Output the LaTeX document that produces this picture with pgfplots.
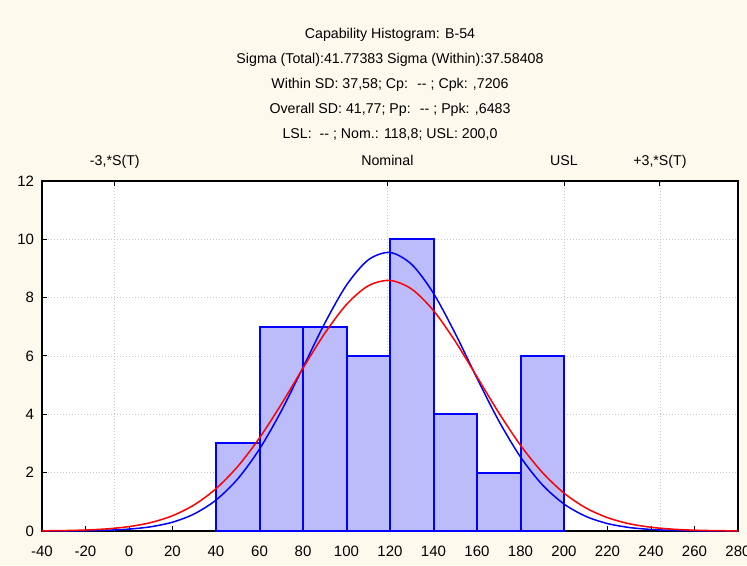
\documentclass[border=0pt]{standalone}
\usepackage{pgfplots}
\pgfplotsset{compat=1.18}
\usepackage{fontspec}
\setmainfont{Liberation Sans}
\definecolor{bgc}{RGB}{253,249,237}
\definecolor{barfill}{RGB}{188,188,250}
\definecolor{gridc}{RGB}{200,200,200}
\begin{document}
\fontsize{14.2}{17}\selectfont
\begin{tikzpicture}[x=1pt,y=1pt]
\useasboundingbox (0,0) rectangle (747,565);
\fill[bgc] (0,0) rectangle (747,565);
\node[anchor=base] at (390,526.5) {Capability Histogram: B-54};
\node[anchor=base] at (390,501.5) {Sigma (Total):41.77383 Sigma (Within):37.58408};
\node[anchor=base] at (390,476.5) {Within SD: 37,58; Cp: \ -{}- ; Cpk: ,7206};
\node[anchor=base] at (390,451.5) {Overall SD: 41,77; Pp: \ -{}- ; Ppk: ,6483};
\node[anchor=base] at (390,426.5) {LSL: \ -{}- ; Nom.: 118,8; USL: 200,0};
\begin{axis}[
  at={(42pt,34pt)}, anchor=south west, scale only axis,
  width=696pt, height=350pt,
  xmin=-40, xmax=280, ymin=0, ymax=12,
  xtick={-40,-20,...,280}, ytick={0,2,...,12},
  axis background/.style={fill=white},
  ymajorgrids,
  extra x ticks={-6.52,118.8,200,244.12},
  extra x tick labels={},
  extra x tick style={grid=major, major tick length=0pt},
  grid style={gridc, dash pattern=on 1pt off 2pt, line width=0.9pt},
  xtick pos=bottom, ytick pos=left, tick align=inside,
  major tick length=5pt, tick style={black, line width=1pt},
  axis line style={black, line width=1.8pt},
  tick label style={font=\fontsize{15}{18}\selectfont},
  /pgf/number format/assume math mode=true,
  xticklabel style={anchor=base, yshift=-25.5pt},
  yticklabel style={xshift=-3pt},
]
\addplot[ybar interval, fill=barfill, draw=blue, line width=2pt]
  coordinates {(40,3)(60,7)(80,7)(100,6)(120,10)(140,4)(160,2)(180,6)(200,6)};
\addplot[blue, line width=1.5pt, smooth, no markers] coordinates {
(-40,0.001)(-30,0.004)(-20,0.010)(-10,0.027)(0,0.065)(10,0.145)(20,0.302)(30,0.586)(40,1.061)(50,1.788)(60,2.810)(70,4.112)(80,5.607)(90,7.123)(100,8.430)(110,9.295)(120,9.548)(130,9.138)(140,8.148)(150,6.769)(160,5.239)(170,3.777)(180,2.537)(190,1.588)(200,0.926)(210,0.503)(220,0.255)(230,0.120)(240,0.053)(250,0.022)(260,0.008)(270,0.003)(280,0.001)};
\addplot[red, line width=1.5pt, smooth, no markers] coordinates {
(-40,0.006)(-30,0.015)(-20,0.034)(-10,0.074)(0,0.151)(10,0.289)(20,0.524)(30,0.897)(40,1.451)(50,2.214)(60,3.192)(70,4.344)(80,5.583)(90,6.777)(100,7.767)(110,8.407)(120,8.591)(130,8.292)(140,7.557)(150,6.503)(160,5.285)(170,4.056)(180,2.939)(190,2.011)(200,1.300)(210,0.793)(220,0.457)(230,0.249)(240,0.128)(250,0.062)(260,0.028)(270,0.012)(280,0.005)};
\end{axis}
\begin{axis}[
  at={(42pt,34pt)}, anchor=south west, scale only axis,
  width=696pt, height=350pt,
  xmin=-40, xmax=280, ymin=0, ymax=12,
  axis x line*=top, axis y line=none,
  xtick={-6.52,118.8,200,244.12},
  xticklabels={{-3,*S(T)},Nominal,USL,{+3,*S(T)}},
  tick align=inside, major tick length=5pt, tick style={black, line width=1pt},
  axis line style={black, line width=1.8pt, -},
  tick label style={font=\fontsize{14.2}{17}\selectfont},
  xticklabel style={anchor=base, yshift=15.5pt},
]
\end{axis}
\end{tikzpicture}
\end{document}
